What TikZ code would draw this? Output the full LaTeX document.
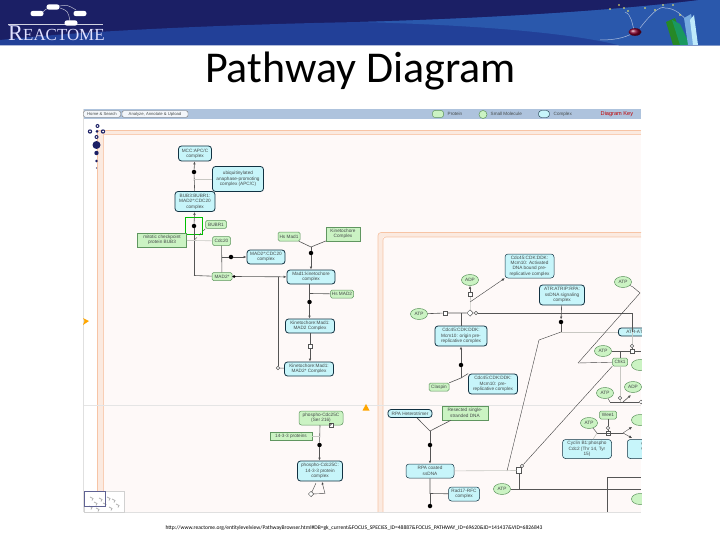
\documentclass[tikz,border=0pt]{standalone}
\usepackage{fontspec}
\setmainfont{Liberation Sans}
\newfontfamily\titlefont{Carlito}
\newfontfamily\logofont{Liberation Serif}
\usetikzlibrary{arrows.meta,shapes.geometric,calc}
\definecolor{navy}{RGB}{27,31,101}
\definecolor{bluemid}{RGB}{34,64,152}
\definecolor{bluelite}{RGB}{42,88,172}
\definecolor{barblue}{RGB}{174,195,221}
\definecolor{panelpink}{RGB}{254,249,248}
\definecolor{peach}{RGB}{247,196,165}
\definecolor{peachfill}{RGB}{251,234,224}
\definecolor{protgreen}{RGB}{203,243,195}
\definecolor{protedge}{RGB}{96,150,96}
\definecolor{cplxcyan}{RGB}{199,245,250}
\definecolor{cplxedge}{RGB}{18,50,66}
\definecolor{wire}{RGB}{85,85,85}
\definecolor{pale}{RGB}{200,200,195}
\definecolor{ink}{RGB}{70,75,75}
\tikzset{
  x=1pt,y=-1pt,
  small/.style={font=\fontsize{4.7}{5.4}\selectfont,text=ink,align=center,inner sep=0pt},
  prot/.style={small,draw=protedge,fill=protgreen,line width=.5pt,rounded corners=1.5pt},
  cplx/.style={small,draw=cplxedge,fill=cplxcyan,line width=.8pt,rounded corners=3pt},
  smol/.style={small,ellipse,draw=protedge,fill=protgreen,line width=.5pt,minimum width=17pt,minimum height=11pt},
  dotn/.style={circle,fill=black,inner sep=0pt,minimum size=4.5pt},
  boxn/.style={draw=wire,fill=white,line width=.5pt,inner sep=0pt,minimum size=4.5pt},
  opn/.style={circle,draw=wire,fill=white,line width=.5pt,inner sep=0pt,minimum size=3.5pt},
  wr/.style={draw=wire,line width=.6pt},
  pl/.style={draw=pale,line width=.6pt},
  thin1/.style={draw=black!75,line width=.4pt},
  arr/.style={wr,-{Latex[length=3pt,width=2.6pt]}},
  legend/.style={font=\fontsize{4.6}{5}\selectfont,text=ink,inner sep=0pt,anchor=west},
  peachline/.style={draw=peach,line width=.6pt}
}
\begin{document}
\begin{tikzpicture}
\useasboundingbox (0,0) rectangle (720,540);
\fill[white] (0,0) rectangle (720,540);
% banner
\fill[navy] (0,0) rectangle (720,45.5);
\fill[bluemid] (0,40) .. controls (90,30) and (250,24) .. (360,22) .. controls (500,18) and (620,10) .. (700,0) -- (720,0) -- (720,45.5) -- (0,45.5) -- cycle;
\fill[bluelite] (360,22) .. controls (440,24) and (560,30) .. (620,45.5) -- (720,45.5) -- (720,0) -- (700,0) .. controls (620,10) and (500,18) .. (360,22) -- cycle;
% logo
\draw[white!80!navy,line width=.4pt] (8,24) -- (103,24);
\draw[white!70!navy,line width=.5pt] (43,12) .. controls (46,9) .. (49,8) (59,6) .. controls (68,5) .. (76,10) (60,8) .. controls (68,11) .. (70,21);
\foreach \a/\b in {37/13.5,53/7,80/13.5,71/23}{\fill[white,rounded corners=2.5pt] (\a-6.5,\b-2.7) rectangle (\a+6.5,\b+2.7);}
\node[anchor=base west,inner sep=0pt,text=white!88!blue] (logo) at (8,41) {\logofont\fontsize{22.5}{22.5}\selectfont R\fontsize{16.9}{16.9}\selectfont EACTOME};
% decoration
\draw[white!60!bluelite,line width=.5pt] (600,40) .. controls (620,40) and (628,36) .. (635,32);
\draw[white!60!bluelite,line width=.5pt] (625,12) .. controls (632,15) and (632,24) .. (634,30);
\draw[white!60!bluelite,line width=.5pt] (640,28) .. controls (650,15) and (660,5) .. (665,8) .. controls (675,8) and (682,15) .. (688,22);
\foreach \a/\b in {610/9,619/5,624/8,628/11,645/8,655/10,663/5,673/5,680/15,690/16}{\fill[yellow!60!white] (\a,\b) circle (.9pt);}
\shade[ball color=purple!70!black] (635,32) ellipse (6.5pt and 3.8pt);
\fill[green!45!black!85] (666,22) -- (675,18) -- (685,45) -- (673,45) -- cycle;
\fill[green!45!cyan!55!black!90] (672,20) -- (680,24) -- (690,45) -- (680,45) -- cycle;
\fill[cyan!60!blue!55] (684,18) -- (691,14) -- (697,45) -- (688,45) -- cycle;
\fill[cyan!25!white] (690,20) -- (694,15) -- (698,45) -- (693,45) -- cycle;
% title
\node[anchor=base,inner sep=0pt,text=black] (title) at (360.5,83) {\titlefont\fontsize{44}{46}\selectfont Pathway Diagram};
% pane
\fill[panelpink] (97,130.5) rectangle (641,512);
\fill[white] (83,109) rectangle (97,512);
\fill[barblue] (83,109) rectangle (641,119);
\fill[peachfill] (97,130.5) rectangle (641,134);
\fill[peachfill] (97,130.5) rectangle (103,512);
\draw[peachline] (641,130.5) -- (97,130.5) -- (97,512);
\draw[peachline,draw opacity=.8] (641,134) -- (103,134) -- (103,512);
\fill[peachfill] (378,232.5) rectangle (641,237);
\fill[peachfill] (378,232.5) rectangle (383,512);
\draw[peachline] (641,232.5) -- (381,232.5) to[out=180,in=90] (378,235.5) -- (378,512);
\draw[peachline] (641,237) -- (386,237) to[out=180,in=90] (383,240) -- (383,512);
\draw[black!10,line width=.8pt] (83,405) -- (641,405);
\draw[black!12,line width=.8pt] (124,512.5) -- (641,512.5);
\draw[black!12,line width=.5pt] (83,109) -- (83,512);
% toolbar
\node[small,draw=black!55,fill=white!85!barblue,rounded corners=2pt,minimum width=37pt,minimum height=6.5pt,font=\fontsize{4.2}{5}\selectfont] (btnA) at (102,114) {Home \& Search};
\node[small,draw=black!55,fill=white!85!barblue,rounded corners=2pt,minimum width=66pt,minimum height=6.5pt,font=\fontsize{4.2}{5}\selectfont] (btnB) at (155,114) {Analyze, Annotate \& Upload};
\node[prot,minimum width=11pt,minimum height=7pt,rounded corners=2.5pt] (kp) at (438,114) {};
\node[legend] (kpt) at (447.5,114) {Protein};
\node[smol,minimum width=8pt,minimum height=8pt] (ks) at (483,114.5) {};
\node[legend] (kst) at (490.5,114) {Small Molecule};
\node[cplx,fill=cplxcyan,minimum width=11pt,minimum height=7pt,line width=.4pt] (kc) at (544,114) {};
\node[legend] (kct) at (553.5,114) {Complex};
\node[legend,text=red!75!black,font=\fontsize{5.6}{6}\selectfont] (key) at (600.5,114) {Diagram Key};
% navigation icon
\foreach \a/\b/\r in {97.5/126/2,90/131.5/2.2,97/131.5/1.5,103/131.5/2.2,96.5/137/2,96.5/145/4,96.5/153/2.2,96.5/161/1.3,96.5/168/.6}{\fill[navy] (\a,\b) circle (\r pt);}
\fill[white] (97.5,126) circle (.8pt) (90,131.5) circle (1pt) (103,131.5) circle (1pt) (96.5,137) circle (.8pt);
\fill[orange!70!yellow] (83,318) -- (89,321) -- (83,325) -- (84.5,321) -- cycle;
\fill[orange!70!yellow] (362.5,410.5) -- (366,404) -- (369.5,410.5) -- cycle;
% left top: nodes
\node[cplx,minimum width=33pt,minimum height=15pt] (mcc) at (195,153.5) {MCC:APC/C\\complex};
\node[cplx,minimum width=51pt,minimum height=25pt] (apc) at (238,179) {ubiquitinylated\\anaphase-promoting\\complex (APC/C)};
\node[cplx,minimum width=40pt,minimum height=20pt] (bub) at (195,201.5) {BUB3:BUBR1:\\MAD2*:CDC20\\complex};
\node[dotn] (d1) at (194,172) {};
\node[dotn] (d2) at (194,226) {};
\node[draw=green!75!black,line width=1.6pt,minimum size=17pt,inner sep=0pt] (sel) at (194,226) {};
\node[prot,minimum width=21pt,minimum height=8pt] (bubr) at (216,224.5) {BUBR1};
\node[prot,rounded corners=0pt,minimum width=49pt,minimum height=14pt] (bub3) at (162,240) {mitotic checkpoint\\protein BUB3};
\node[prot,minimum width=18pt,minimum height=9pt] (cdc20) at (221.5,241) {Cdc20};
\node[cplx,minimum width=38pt,minimum height=14pt] (mc) at (266,257) {MAD2*:CDC20\\complex};
\node[dotn] (d3) at (231,257) {};
\node[prot,minimum width=20pt,minimum height=8pt] (mad2s) at (222,276.5) {MAD2*};
\node[prot,minimum width=22pt,minimum height=9pt] (mad1) at (289,236.5) {Hs Mad1};
\node[prot,rounded corners=0pt,minimum width=34pt,minimum height=14pt] (kin) at (343,234) {Kinetochore\\Complex};
\coordinate (j1) at (311,247);
\node[dotn] (d4) at (311,253) {};
\node[cplx,minimum width=48pt,minimum height=14pt] (mk) at (311,277) {Mad1:kinetochore\\complex};
\node[prot,minimum width=23pt,minimum height=8pt] (hm) at (342,294) {Hs MAD2};
\node[dotn] (d5) at (309.5,302) {};
\node[cplx,minimum width=49pt,minimum height=14pt] (km) at (310,326) {Kinetochore:Mad1:\\MAD2 Complex};
\node[boxn] (b1) at (310,346) {};
\node[cplx,minimum width=49pt,minimum height=14pt] (kms) at (309,369) {Kinetochore:Mad1:\\MAD2* Complex};
\node[opn] (o1) at (278,368) {};
\coordinate (j2) at (278,276.5);
\coordinate (j3) at (194,275.5);
\coordinate (j4) at (194,240.5);
\coordinate (j5) at (222,257);
\coordinate (j6) at (194,179);
\coordinate (j7) at (310,293.5);
\coordinate (j8) at (234,276.5);
\draw[arr] (d1) -- (mcc);
\draw[wr] (bub) -- (d1);
\draw[pl] (apc.west |- j6) -- (j6);
\draw[arr] (d2) -- (bub);
\draw[wr] (j3) -- (d2);
\draw[wr] (j3) -- (mad2s);
\draw[thin1,dashed] (bubr.south west) -- (j4);
\draw[pl] (bub3.east |- j4) -- (j4) -- (cdc20);
\draw[wr] (cdc20) -- (mad2s);
\draw[wr] (j5) -- (d3);
\draw[arr] (d3) -- (mc);
\draw[wr] (mad2s) -- (j8);
\draw[arr] (j8) -- (mk);
\node[dotn,minimum size=3pt] (d3b) at (j8) {};
\draw[wr] (j2) -- (o1);
\draw[wr] (o1) -- (kms);
\draw[wr] (mad1) -- (j1);
\draw[wr] (kin) -- (j1);
\draw[wr] (j1) -- (d4);
\draw[arr] (d4) -- (mk);
\draw[wr] (mk.south -| d5) -- (d5);
\draw[wr] (hm) -- (j7);
\draw[arr] (d5) -- (km.north -| d5);
\draw[wr] (km) -- (b1);
\draw[arr] (b1) -- (kms.north -| b1);
% left bottom
\node[prot,minimum width=44pt,minimum height=14pt,rounded corners=2.5pt] (cdc25) at (321,418) {phospho-Cdc25C\\(Ser 216)};
\node[prot,rounded corners=0pt,minimum width=42pt,minimum height=8pt] (p1433) at (291,436) {14-3-3 proteins};
\node[boxn,minimum size=4.5pt,font=\fontsize{3.5}{4}\selectfont] (pc) at (331,425) {P};
\node[dotn] (d6) at (319.5,445) {};
\node[cplx,minimum width=45pt,minimum height=20pt] (cc) at (320,471) {phospho-Cdc25C:\\14-3-3 protein\\complex};
\coordinate (j9) at (320,436);
\node[boxn,diamond,minimum size=5.5pt] (dm) at (311,494) {};
\coordinate (j10) at (325,493.5);
\coordinate (j11) at (316,483);
\coordinate (j12) at (322,482);
\draw[wr] (cdc25.south -| j9) -- (d6);
\draw[pl] (p1433) -- (j9);
\draw[arr,line width=.9pt] (d6) -- (cc.north -| d6);
\draw[thin1] (j11) -- (dm);
\draw[thin1,-{Latex[length=2.5pt,width=2.2pt]}] (dm) -- (j10) -- (j12);
% overview
\fill[white] (84,491) rectangle (124,512);
\draw[black!18,line width=.5pt] (84,491) rectangle (124,512);
\foreach \a/\b in {90/497,94/502,99/498,103/503,107/497,112/499,116/504,109/507,96/508,89/506}{\draw[black!30,line width=.8pt] (\a,\b) -- ++(3,1.5) -- ++(-1,2);}
\draw[navy!70,line width=.35pt] (84,491) rectangle (105.5,506);
% right nodes
\node[cplx,line width=.5pt,minimum width=49pt,minimum height=24pt] (act) at (529.5,266) {Cdc45:CDK:DDK:\\Mcm10: Activated\\DNA bound pre-\\replicative complex};
\node[cplx,minimum width=45pt,minimum height=20pt] (atr) at (562,295) {ATR:ATRIP:RPA:\\ssDNA signaling\\complex};
\node[smol] (adp1) at (470,280) {ADP};
\node[smol] (atp1) at (623,282) {ATP};
\node[smol] (atp2) at (419,314) {ATP};
\node[boxn] (b2) at (470,294) {};
\coordinate (j13) at (470,302);
\node[boxn] (b3) at (445,313) {};
\node[boxn,diamond,minimum size=6.5pt] (dm2) at (470,313) {};
\node[opn] (o2) at (476,313) {};
\coordinate (j14) at (632,313);
\coordinate (j15) at (461,313);
\node[cplx,minimum width=52pt,minimum height=20pt] (pre) at (461,336) {Cdc45:CDK:DDK:\\Mcm10: origin pre-\\replicative complex};
\node[dotn] (d7) at (561,322) {};
\coordinate (j16) at (561,332);
\coordinate (j17) at (539,340);
\node[cplx,minimum width=49pt,minimum height=20pt] (pre2) at (493,384) {Cdc45:CDK:DDK:\\Mcm10: pre-\\replicative complex};
\node[prot,minimum width=20pt,minimum height=8pt] (clasp) at (439,387) {Claspin};
\coordinate (j18) at (461,378);
\node[dotn] (d8) at (461,365) {};
\node[cplx,minimum width=44pt,minimum height=8pt] (rpa) at (410,413.5) {RPA Heterotrimer};
\node[prot,rounded corners=0pt,minimum width=46pt,minimum height=14pt] (ss) at (465,413) {Resected single-\\stranded DNA};
\coordinate (j19) at (430,431);
\node[dotn] (d9) at (430,445) {};
\node[cplx,line width=.5pt,minimum width=48pt,minimum height=14pt] (rc) at (430,471) {RPA coated\\ssDNA};
\node[cplx,line width=.5pt,minimum width=31pt,minimum height=14pt] (rad) at (464,494) {Rad17-RFC\\complex};
\coordinate (j20) at (430,493.5);
\node[dotn] (d10) at (430,506) {};
\node[smol] (atp3) at (502,489) {ATP};
\node[boxn,minimum width=5pt,minimum height=6pt] (b4) at (519,470.5) {};
\node[opn] (o3) at (522,466) {};
\coordinate (j21) at (519,489);
\coordinate (j22) at (641,489);
\coordinate (j23) at (507,471);
\coordinate (j24) at (607,477);
\coordinate (j25) at (641,477);
\coordinate (j26) at (607,512);
\node[smol] (atp4) at (603,351) {ATP};
\node[prot,minimum width=15pt,minimum height=8pt] (chk) at (620,362) {Chk1};
\node[boxn] (b5) at (632,351) {};
\node[opn] (o4) at (632,346) {};
\node[cplx,anchor=west,minimum width=40pt,minimum height=8pt] (atra) at (618,332) {ATR-ATRIP};
\coordinate (j27) at (578,363);
\coordinate (j28) at (640,293);
\coordinate (j29) at (633,287);
\coordinate (j30) at (620,351);
\coordinate (j31) at (641,351);
\node[smol] (adp2) at (633,387) {ADP};
\node[smol] (atp5) at (605,393) {ATP};
\node[boxn,diamond,minimum size=4pt] (dm3) at (641,402) {};
\node[opn] (o5) at (620,398) {};
\coordinate (j32) at (610,402);
\coordinate (j33) at (620,402);
\coordinate (j34) at (623,402);
\node[prot,minimum width=17pt,minimum height=8pt] (wee) at (608,415) {Wee1};
\node[opn] (o6) at (608,428) {};
\node[boxn] (b6) at (608,433) {};
\node[smol] (atp6) at (589,423) {ATP};
\coordinate (j35) at (597,433);
\coordinate (j36) at (623,433);
\node[cplx,line width=.5pt,minimum width=49pt,minimum height=19pt] (cyc) at (587,449) {Cyclin B1:phospho\\Cdc2 (Thr 14, Tyr\\15)};
\node[cplx,line width=.5pt,anchor=west,minimum width=40pt,minimum height=19pt,align=left] (cyc2) at (627,449) {\,Cyclin\\\,Cdc2\\};
\node[smol] (adp3) at (640,365) {};
\node[smol] (adp4) at (640,420) {};
\node[smol] (adp5) at (640,499) {};
\coordinate (j37) at (632,427);
\coordinate (j38) at (632,438);
\coordinate (j39) at (640,402);
\coordinate (j40) at (631,395);
% right wires
\draw[arr] (b2) -- (adp1);
\draw[pl] (dm2) -- (j13) -- (b2);
\draw[thin1,-{Latex[length=3pt,width=2.6pt]}] (j13) -- (act.south west);
\draw[wr] (atp2) -- (b3) -- (dm2);
\draw[wr] (o2) -- (j14) -- (atra.west -| j14);
\draw[wr] (pre.north -| j15) -- (j15);
\draw[arr,shorten >=0pt] (atr) -- (d7);
\draw[pl] (j16) -- (atra);
\draw[wr] (d7) -- (j16);
\draw[thin1] (j16) -- (j17) -- (j23);
\draw[arr] (d8) -- (pre.south -| d8);
\draw[wr] (j18) -- (d8);
\draw[wr] (clasp) -- (j18);
\draw[wr] (pre2.north west) -- (j18);
\draw[wr] (rpa.south) ++(7,0) coordinate (j41) -- (j19);
\draw[wr] (ss.south) ++(-14,0) coordinate (j42) -- (j19);
\draw[wr] (j19) -- (d9);
\draw[arr] (d9) -- (rc);
\draw[wr] (rc) -- (j20) -- (rad);
\draw[wr] (j20) -- (d10);
\draw[pl] (rc) -- (b4);
\draw[wr] (atp3) -- (j22);
\draw[wr] (j21) -- (b4);
\draw[thin1] (b4) -- (o3) -- (chk.south west);
\draw[thin1] (j27) -- (chk);
\draw[thin1] (j27) -- (j28);
\draw[thin1] (atp1) -- (j29) -- (j28);
\draw[wr] (j24) -- (j25);
\draw[wr] (j24) -- (j26);
\draw[wr] (atp4) -- (b5) -- (j31);
\draw[wr] (o4) -- (b5);
\draw[pl] (o4) -- (atra.west -| o4);
\draw[wr] (j30) -- (chk);
\draw[pl] (chk) -- (o5);
\draw[thin1] (atp5) -- (j32);
\draw[wr] (j32) -- (dm3);
\draw[arr] (j34) -- (j40);
\draw[pl] (o5) -- (j33);
\draw[wr] (wee) -- (o6) -- (b6);
\draw[wr] (j35) -- (j36);
\draw[thin1] (atp6) -- (j35);
\draw[pl] (j35) -- (cyc);
\draw[thin1,-{Latex[length=3pt,width=2.6pt]}] (j36) -- (j37);
\draw[thin1,-{Latex[length=3pt,width=2.6pt]}] (j36) -- (j38);
% clip the pane at its right edge
\fill[white] (641.5,119) rectangle (720,515);
\fill[white] (641.5,109) rectangle (720,119);
% footer
\node[anchor=base,inner sep=0pt,text=black] (url) at (354,529.5) {\titlefont\fontsize{5.56}{6}\selectfont http://www.reactome.org/entitylevelview/PathwayBrowser.html\#DB=gk\_current\&FOCUS\_SPECIES\_ID=48887\&FOCUS\_PATHWAY\_ID=69620\&ID=141437\&VID=6826843};
\end{tikzpicture}
\end{document}
